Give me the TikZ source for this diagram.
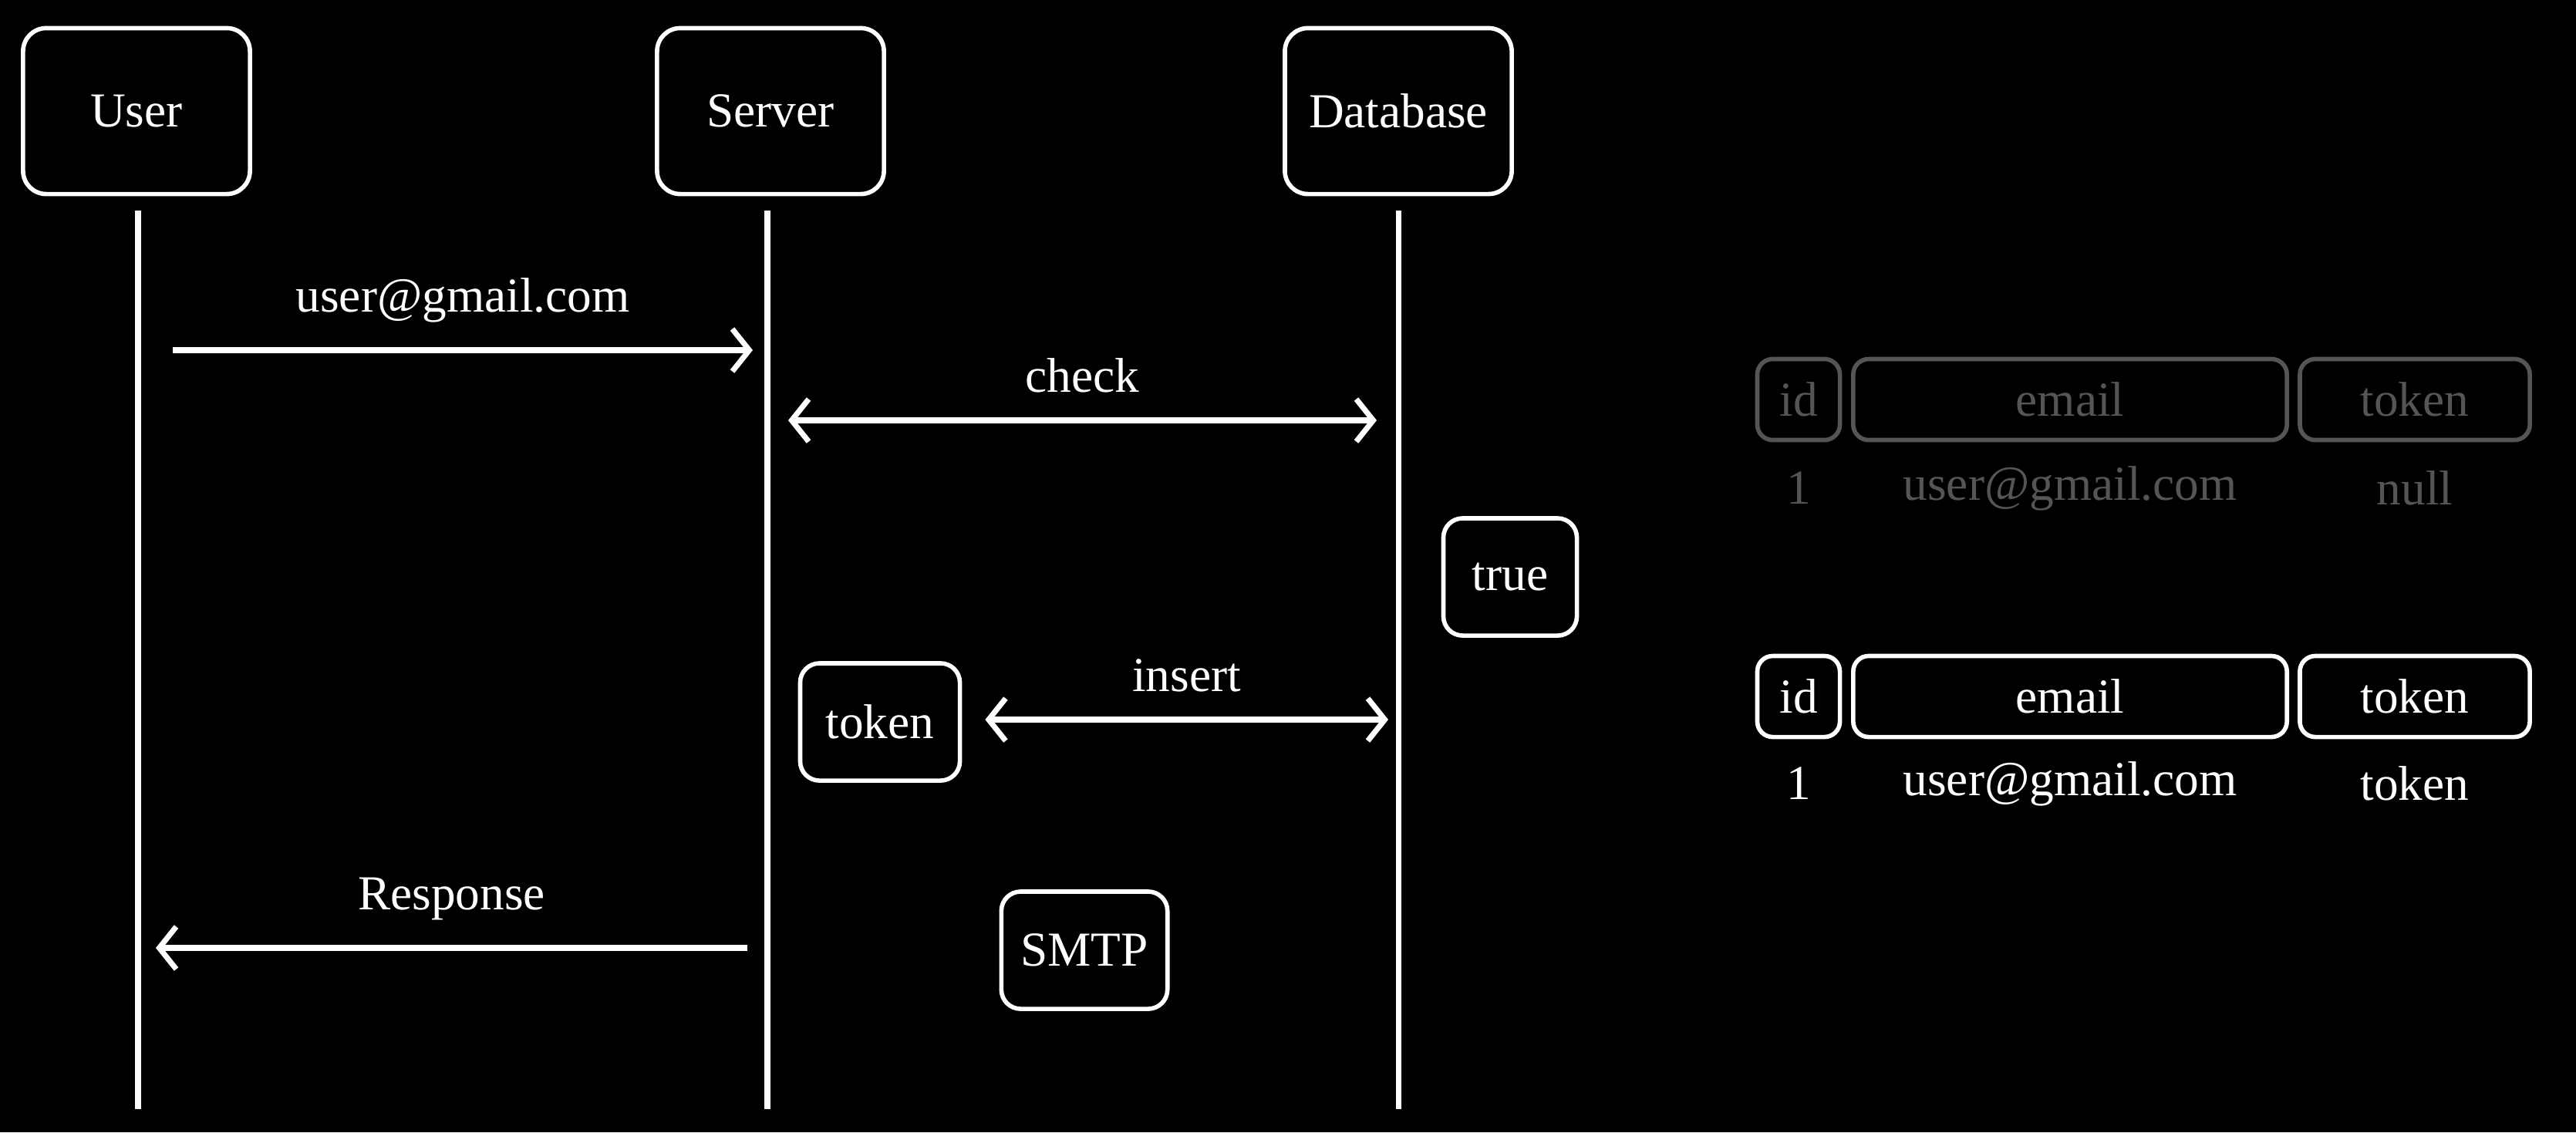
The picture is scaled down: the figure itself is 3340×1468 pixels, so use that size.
\documentclass[tikz,border=0pt]{standalone}
\usepackage{fontspec}
\setmainfont{Liberation Serif}
\usepackage{tikz}
\usetikzlibrary{arrows.meta, positioning}
\definecolor{faded}{HTML}{555555}

\begin{document}
\begin{tikzpicture}[
                x=0.01cm, y=-0.01cm,
                every node/.style={text=white, font=\fontsize{18}{22}\selectfont},
                actor/.style={rectangle, rounded corners=0.3cm, draw=white, line width=1.6pt, minimum width=2.94cm, minimum height=2.15cm},
                note/.style={rectangle, rounded corners=0.25cm, draw=white, line width=1.6pt, minimum height=1.52cm, inner sep=0.25cm},
                col/.style={rectangle, rounded corners=0.2cm, draw=white, line width=1.6pt, minimum height=1.05cm},
                life/.style={white, line width=2pt},
                line/.style={white, line width=2.4pt, -{Straight Barb[length=0.22cm, width=0.55cm, line width=2pt]}},
                both/.style={line, {Straight Barb[length=0.22cm, width=0.55cm, line width=2pt]}-{Straight Barb[length=0.22cm, width=0.55cm, line width=2pt]}},
                old/.style={draw=faded, text=faded}
            ]
            \fill[black] (0,0) rectangle (3340,1468);

            \node[actor] (U) at (177,144) {User};
            \node[actor] (S) at (999,144) {Server};
            \node[actor] (D) at (1813,144) {Database};

            \coordinate (U1) at (179,273);  \coordinate (U2) at (179,1438);
            \coordinate (S1) at (995,273);  \coordinate (S2) at (995,1438);
            \coordinate (D1) at (1813,273); \coordinate (D2) at (1813,1438);
            \draw[life] (U1) -- (U2);
            \draw[life] (S1) -- (S2);
            \draw[life] (D1) -- (D2);

            \coordinate (a1) at (224,454);  \coordinate (b1) at (976,454);
            \draw[line] (a1) -- node[above=0.2cm] {user@gmail.com} (b1);

            \coordinate (a2) at (1022,545); \coordinate (b2) at (1785,545);
            \draw[both] (a2) -- node[above=0.2cm] {check} (b2);

            \node[note, minimum width=1.73cm] (T) at (1958,748) {true};
            \node[note, minimum width=2.07cm] (K) at (1141,936) {token};

            \coordinate (b3) at (1800,933);
            \draw[both] (K.east) ++(30,-3) coordinate (a3) (a3) -- node[above=0.2cm] {insert} (b3);

            \coordinate (a4) at (969,1229); \coordinate (b4) at (202,1229);
            \draw[line] (a4) -- node[above=0.2cm] {Response} (b4);

            \node[note, minimum width=2.09cm] (M) at (1406,1232) {SMTP};

            % table before
            \node[col, old, minimum width=1.07cm] (id1) at (2332,518) {id};
            \node[col, old, minimum width=5.62cm] (em1) at (2684,518) {email};
            \node[col, old, minimum width=2.98cm] (tk1) at (3131,518) {token};
            \node[text=faded] (r1a) at (2332,633) {1};
            \node[text=faded] (r1b) at (2684,633) {user@gmail.com};
            \node[text=faded] (r1c) at (3131,633) {null};

            % table after
            \node[col, minimum width=1.07cm] (id2) at (2332,903) {id};
            \node[col, minimum width=5.62cm] (em2) at (2684,903) {email};
            \node[col, minimum width=2.98cm] (tk2) at (3131,903) {token};
            \node (r2a) at (2332,1016) {1};
            \node (r2b) at (2684,1016) {user@gmail.com};
            \node (r2c) at (3131,1016) {token};
        \end{tikzpicture}
\end{document}
